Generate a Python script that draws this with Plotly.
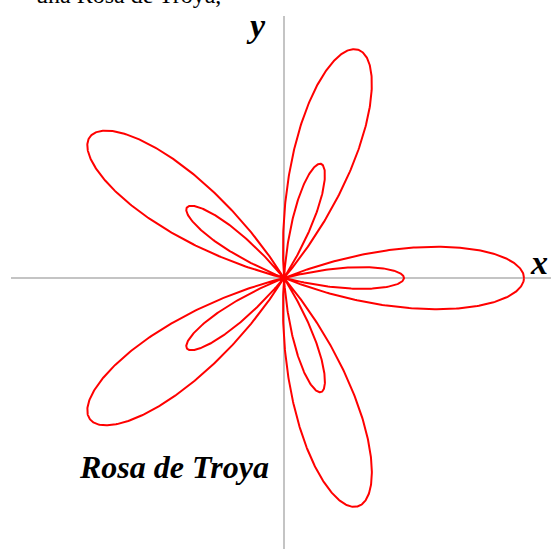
import numpy as np
import plotly.graph_objects as go

# Rosa de Troya: r = A + B*cos(K*theta)
PETALS = 5          # K
A = 1.0
B = 3.0
N_POINTS = 2400

TITLE_TEXT = "Rosa de Troya"
TOP_TEXT = "una Rosa de Troya,"
X_LABEL = "x"
Y_LABEL = "y"

theta = np.linspace(0, 2 * np.pi, N_POINTS)
r = A + B * np.cos(PETALS * theta)
xs = r * np.cos(theta)
ys = r * np.sin(theta)

W, H = 551, 549
CX, CY = 284, 278      # pixel position of origin
S = 60.0               # pixels per unit


def px_x(p):
    return (p - CX) / S


def px_y(p):
    return (CY - p) / S


fig = go.Figure()
fig.add_trace(go.Scatter(x=xs, y=ys, mode="lines",
                         line=dict(color="#ff0000", width=2),
                         hoverinfo="skip", showlegend=False))

AX_COL = "#c4c4c4"
fig.add_shape(type="line", x0=px_x(11), x1=px_x(W), y0=0, y1=0,
              line=dict(color=AX_COL, width=2), layer="below")
fig.add_shape(type="line", x0=0, x1=0, y0=px_y(16), y1=px_y(H),
              line=dict(color=AX_COL, width=2), layer="below")

serif = "Liberation Serif, Times New Roman, serif"
fig.add_annotation(x=px_x(539), y=px_y(262), text=f"<b><i>{X_LABEL}</i></b>",
                   showarrow=False, font=dict(family=serif, size=34, color="black"),
                   xanchor="center", yanchor="middle")
fig.add_annotation(x=px_x(256), y=px_y(25), text=f"<b><i>{Y_LABEL}</i></b>",
                   showarrow=False, font=dict(family=serif, size=34, color="black"),
                   xanchor="center", yanchor="middle")
fig.add_annotation(x=px_x(174), y=px_y(467), text=f"<b><i>{TITLE_TEXT}</i></b>",
                   showarrow=False, font=dict(family=serif, size=32, color="black"),
                   xanchor="center", yanchor="middle")
# partially visible line of text cut at the top edge
fig.add_annotation(xref="paper", yref="paper", x=223 / W, y=(H + 5) / H,
                   text=TOP_TEXT, showarrow=False,
                   font=dict(family=serif, size=24, color="black"),
                   xanchor="right", yanchor="middle")

fig.update_layout(
    width=W, height=H,
    margin=dict(l=0, r=0, t=0, b=0),
    paper_bgcolor="white", plot_bgcolor="white",
    xaxis=dict(range=[px_x(0), px_x(W)], visible=False, fixedrange=True),
    yaxis=dict(range=[px_y(H), px_y(0)], visible=False, fixedrange=True),
    showlegend=False,
)

fig.write_html("out.html", config={"displayModeBar": False},
               post_script="document.body.style.margin='0';document.body.style.overflow='hidden';")
